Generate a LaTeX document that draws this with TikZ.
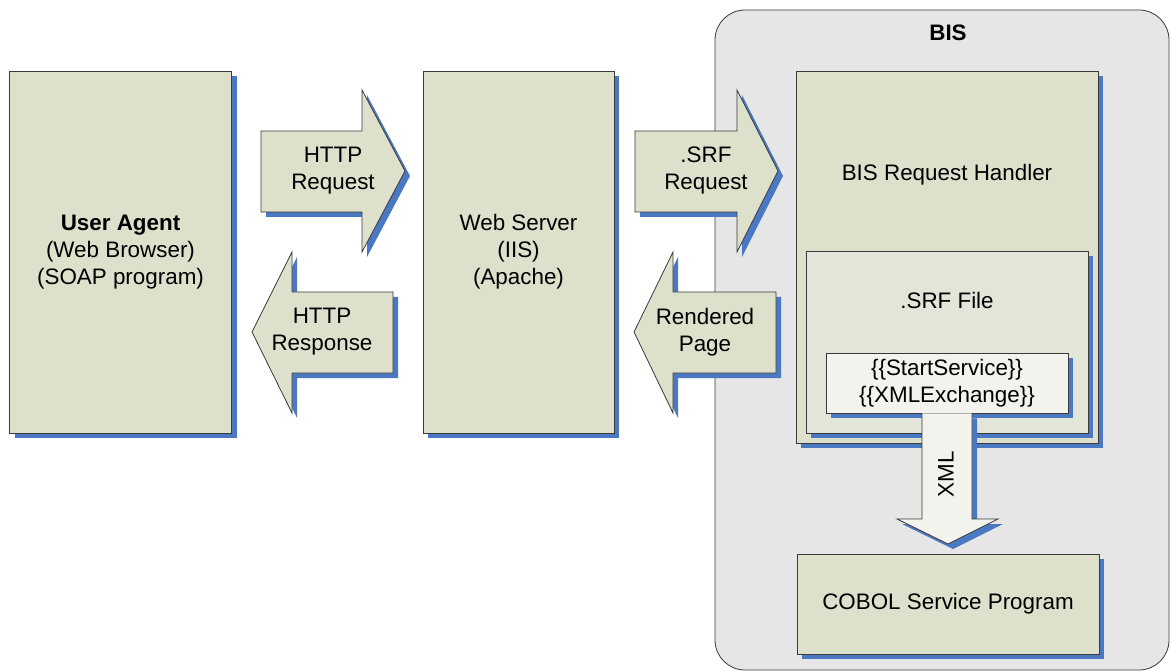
\documentclass[tikz,border=0pt]{standalone}
\usepackage{fontspec}
\setmainfont{Liberation Sans}
\usetikzlibrary{shadows}

\definecolor{boxfill}{HTML}{DDE0CB}
\definecolor{filefill}{HTML}{E1E6D9}
\definecolor{tagfill}{HTML}{F2F3EC}
\definecolor{bisfill}{HTML}{E6E6E6}
\definecolor{shadowblue}{HTML}{4A78C2}
\definecolor{edge}{HTML}{3A3A3A}

\begin{document}
\begin{tikzpicture}[x=1pt,y=-1pt,
	blueshadow/.style={drop shadow={shadow xshift=5pt,shadow yshift=-5pt,fill=shadowblue,opacity=1}},
	box/.style={draw=edge,line width=0.8pt,fill=boxfill,blueshadow,inner sep=0pt},
	blockarrow/.style={draw=edge,line width=0.8pt,fill=boxfill,blueshadow},
	txt/.style={font=\fontsize{22.4}{27}\selectfont,align=center,inner sep=0pt}]

	\useasboundingbox (0,0) rectangle (1171,671);

	% BIS container with its title
	\node[draw=edge,line width=0.8pt,fill=bisfill,rounded corners=30pt,
	      minimum width=454,minimum height=660] (bis) at (942,340) {};
	\node[txt,font=\fontsize{22.4}{27}\selectfont\bfseries] (bistitle) at (948,33) {BIS};

	% User agent and web server
	\node[box,txt,minimum width=222,minimum height=362] (agent) at (120.5,252)
		{\textbf{User Agent}\\(Web Browser)\\(SOAP program)};
	\node[box,txt,minimum width=191,minimum height=362] (server) at (518.5,252)
		{Web Server\\(IIS)\\(Apache)};

	% Request handler with the nested .SRF file and tags
	\node[box,minimum width=302,minimum height=372] (handler) at (947,257) {};
	\node[txt] (handlertxt) at (947,175) {BIS Request Handler};
	\node[box,fill=filefill,minimum width=282,minimum height=182] (srffile) at (947,342) {};
	\node[txt] (srffiletxt) at (947,300) {.SRF File};
	\node[box,txt,fill=tagfill,minimum width=242,minimum height=60] (tags) at (947,383)
		{\{\{StartService\}\}\\\{\{XMLExchange\}\}};

	% COBOL program
	\node[box,txt,minimum width=302,minimum height=100] (cobol) at (948,604) {COBOL Service Program};

	% HTTP request / response arrows
	\filldraw[blockarrow] (261,131) -- (362,131) -- (362,90) -- (405,171)
		-- (362,252) -- (362,212) -- (261,212) -- cycle;
	\node[txt] (httpreq) at (333,171) {HTTP\\Request};
	\filldraw[blockarrow] (393,292) -- (292,292) -- (292,252) -- (252,332)
		-- (292,413) -- (292,373) -- (393,373) -- cycle;
	\node[txt] (httpresp) at (322,332) {HTTP\\Response};

	% .SRF request / rendered page arrows
	\filldraw[blockarrow] (635,131) -- (737,131) -- (737,90) -- (778,171)
		-- (737,252) -- (737,212) -- (635,212) -- cycle;
	\node[txt] (srfreq) at (706,171) {.SRF\\Request};
	\filldraw[blockarrow] (776,292) -- (673,292) -- (673,252) -- (634,332)
		-- (673,413) -- (673,373) -- (776,373) -- cycle;
	\node[txt] (rendered) at (705,332) {Rendered\\Page};

	% XML arrow down to the COBOL program
	\filldraw[blockarrow,fill=tagfill] (tags.south -| 922,0) -- (922,519) -- (897,519)
		-- (948,544) -- (998,519) -- (972,519) -- (tags.south -| 972,0);
	\node[txt,rotate=90] (xml) at (946,474) {XML};

\end{tikzpicture}
\end{document}
